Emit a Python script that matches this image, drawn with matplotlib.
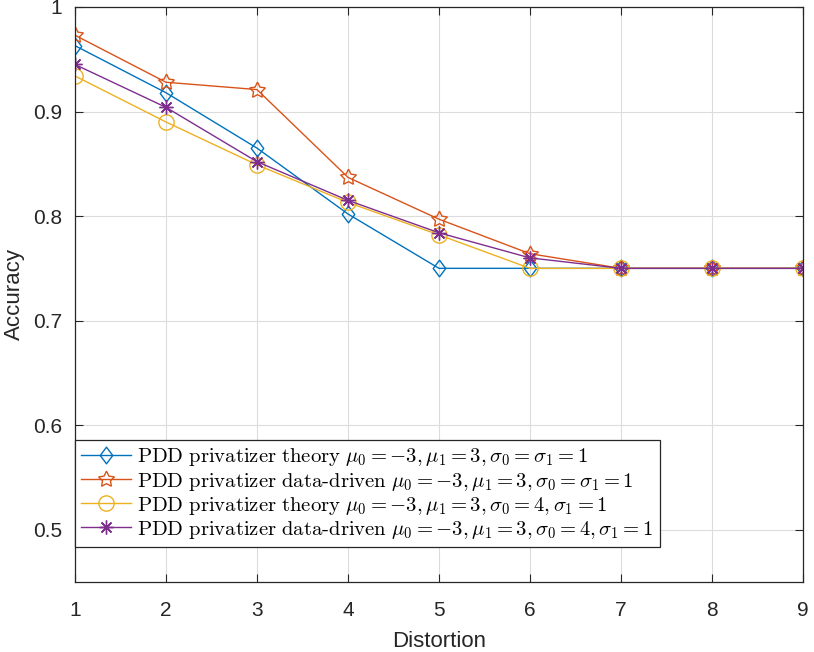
import numpy as np
import matplotlib
matplotlib.use("Agg")
import matplotlib.pyplot as plt
from matplotlib.ticker import FuncFormatter
from matplotlib.path import Path

# Accuracy vs distortion for the PDD privatizer
distortion = [1, 2, 3, 4, 5, 6, 7, 8, 9]
theory_1 = [0.963, 0.918, 0.865, 0.802, 0.750, 0.750, 0.750, 0.750, 0.750]
data_1 = [0.973, 0.928, 0.921, 0.837, 0.797, 0.764, 0.750, 0.750, 0.750]
theory_2 = [0.934, 0.890, 0.849, 0.813, 0.782, 0.750, 0.750, 0.750, 0.750]
data_2 = [0.945, 0.904, 0.852, 0.815, 0.784, 0.760, 0.750, 0.750, 0.750]

labels = [
    r'$\mathrm{PDD\ privatizer\ theory}\ \mu_0=-3, \mu_1=3, \sigma_0=\sigma_1=1$',
    r'$\mathrm{PDD\ privatizer\ data\text{-}driven}\ \mu_0=-3, \mu_1=3, \sigma_0=\sigma_1=1$',
    r'$\mathrm{PDD\ privatizer\ theory}\ \mu_0=-3, \mu_1=3, \sigma_0=4, \sigma_1=1$',
    r'$\mathrm{PDD\ privatizer\ data\text{-}driven}\ \mu_0=-3, \mu_1=3, \sigma_0=4, \sigma_1=1$',
]
colors = ['#0072BD', '#D95319', '#EDB120', '#7E2F8E']

# matlab-like diamond (slightly taller than wide)
diamond = Path([(0, 1), (0.75, 0), (0, -1), (-0.75, 0), (0, 1)],
               [Path.MOVETO, Path.LINETO, Path.LINETO, Path.LINETO, Path.CLOSEPOLY])
markers = [diamond, (5, 1, 0), 'o', (8, 2, 0)]
msizes = [12, 12, 11, 10]

plt.rcParams['font.family'] = ['Liberation Sans', 'DejaVu Sans']
plt.rcParams['mathtext.fontset'] = 'cm'

fig = plt.figure(figsize=(8.14, 6.52), dpi=100)
ax = fig.add_axes([0.0921, 0.1074, 0.8944, 0.8819])

series = [theory_1, data_1, theory_2, data_2]
for i, ys in enumerate(series):
    ax.plot(distortion, ys, color=colors[i], marker=markers[i], markersize=msizes[i],
            markerfacecolor='none', markeredgewidth=1.0, linewidth=1.0, label=labels[i])

ax.set_xlim(1, 9)
ax.set_ylim(0.45, 1.0)
ax.set_xticks(distortion)
ax.set_yticks([0.5, 0.6, 0.7, 0.8, 0.9, 1.0])
ax.yaxis.set_major_formatter(FuncFormatter(lambda v, p: '1' if abs(v - 1) < 1e-9 else f'{v:.1f}'))
ax.grid(True, color='#dcdcdc', linewidth=0.8)
ax.tick_params(direction='in', top=True, right=True, labelsize=15, length=6, pad=9,
               colors='#262626')
ax.tick_params(axis='x', pad=14)
for s in ax.spines.values():
    s.set_linewidth(0.9)
    s.set_color('#262626')

ax.set_xlabel('Distortion', fontsize=16, color='#262626', labelpad=7.5)
ax.set_ylabel('Accuracy', fontsize=16, color='#262626', labelpad=6)

leg = ax.legend(loc='lower left', bbox_to_anchor=(0.0, 0.061), fontsize=14.9,
                fancybox=False, framealpha=1, edgecolor='#262626',
                handlelength=2.4, labelspacing=0.1, borderpad=0.3, handletextpad=0.3,
                borderaxespad=0)
leg.get_frame().set_linewidth(0.9)

fig.savefig('out.png', dpi=100)
